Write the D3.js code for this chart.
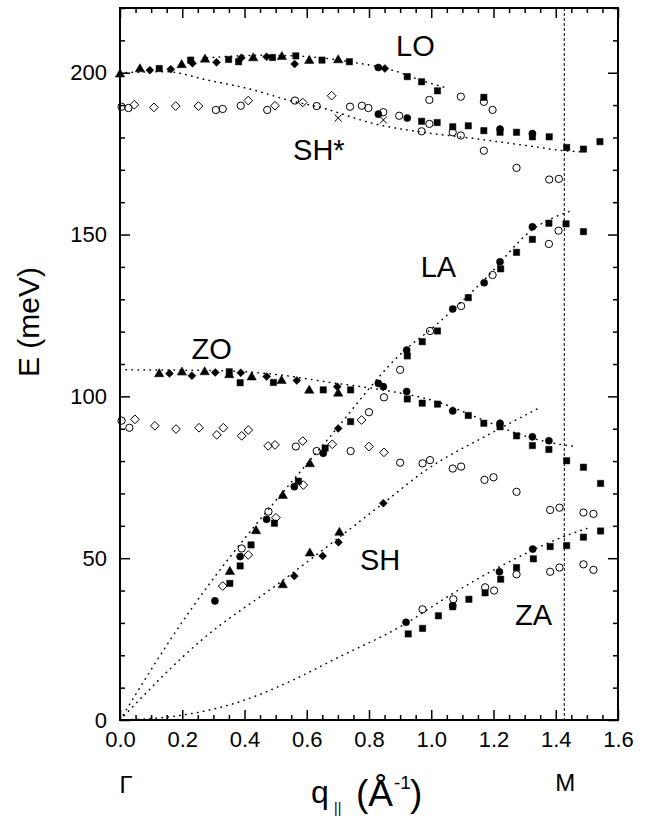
<!DOCTYPE html>
<html>
<head>
<meta charset="utf-8">
<script src="https://cdn.jsdelivr.net/npm/d3@7"></script>
<style>
  html, body { margin: 0; padding: 0; background: #fff; }
  svg { display: block; }
  text { font-family: "Liberation Sans", Arial, sans-serif; fill: #000; }
</style>
</head>
<body>
<div id="chart"></div>
<script>
// ---------------- data (q in 1/Å, E in meV) ----------------
const xTicks = [0.0, 0.2, 0.4, 0.6, 0.8, 1.0, 1.2, 1.4, 1.6];
const yTicks = [0, 50, 100, 150, 200];
const mPointQ = 1.4275;

const filledTriangles = [
  [0.0,199.5],[0.064,201.1],[0.198,202.4],[0.273,204.1],[0.428,204.5],[0.52,204.9],[0.608,203.7],[0.701,203.9],
  [0.126,106.9],[0.199,107.4],[0.272,107.5],[0.351,106.6],[0.423,105.9],[0.519,104.8],[0.608,101.8],[0.701,100.9],
  [0.353,45.8],[0.437,58.4],[0.523,69.3],[0.61,79.1],
  [0.523,41.7],[0.61,51.5],[0.705,57.9]
];
const filledDiamonds = [
  [0.096,200.8],[0.163,201.1],[0.233,202.9],[0.31,203.2],[0.39,204.6],[0.471,204.9],[0.561,202.7],[0.851,201.3],
  [0.159,107.1],[0.231,106.4],[0.306,107.4],[0.388,107.3],[0.471,106.1],[0.568,104.9],[0.698,103.0],
  [0.701,90.1],
  [0.56,44.5],[0.651,50.7],[0.702,54.9],[0.846,67]
];
const filledSquares = [
  [0.126,201.3],[0.227,203.9],[0.349,204.1],[0.381,203.4],[0.49,204.7],[0.565,205.2],[0.649,203.9],[0.737,203.4],[0.923,198.8],[0.969,197.2],[1.02,194.4],[1.169,192.4],
  [0.969,185],[1.019,184.6],[1.069,183.3],[1.119,183.6],[1.169,182.1],[1.221,181.6],[1.274,181.6],[1.325,180.2],[1.379,180.2],[1.435,176.9],[1.489,176.4],[1.542,178.7],
  [0.353,42.2],[0.386,47.6],[0.421,54.1],[0.496,60.8],[0.573,73.8],[0.659,84],[0.741,92.2],[0.923,112.5],[0.971,116.9],[1.02,120.2],[1.119,130.5],[1.223,139.4],[1.274,144.5],[1.325,148.5],[1.378,153.5],[1.433,153.3],[1.489,150.9],
  [0.351,107.6],[0.386,104.2],[0.493,104.3],[0.653,102],[0.741,102],[0.923,99.2],[0.971,97.9],[1.02,97.6],[1.119,94.1],[1.169,91.7],[1.221,90.6],[1.274,87.8],[1.325,84.8],[1.378,83.6],[1.435,80.1],[1.489,78.1],[1.544,73.1],
  [0.926,26.6],[0.972,28.3],[1.023,32.2],[1.069,35],[1.121,37.3],[1.173,39.3],[1.223,43.5],[1.274,47.1],[1.328,49.8],[1.382,53.6],[1.435,53.9],[1.489,56.5],[1.544,58.4]
];
const filledCircles = [
  [0.83,201.6],
  [0.83,187.2],[0.923,186],[1.221,182.6],[1.325,181.2],
  [0.305,36.8],[0.386,50.5],[0.471,62],[0.56,72.1],[0.653,82.4],[0.83,104],[0.846,103],[0.921,114.3],[1.069,127],[1.17,135.1],[1.221,141.6],[1.325,152.4],
  [0.921,101.5],[1.069,95.5],[1.221,91.7],[1.325,87.5],[1.378,86.3],
  [0.919,30.2],[1.069,35.3],[1.219,45.8],[1.326,52.8]
];
const openCircles = [
  [0.005,189.5],[0.027,189.1],[0.308,188.5],[0.33,188.8],[0.388,189.8],[0.473,188.5],[0.562,191.4],[0.632,189.7],[0.739,189.5],[0.777,189.8],[0.798,189.1],[0.846,187.8],[0.897,186.7],[0.969,181.9],[0.994,184.2],[1.069,181.6],[1.095,180.6],[1.169,175.9],[1.274,170.6],[1.379,167],[1.41,167.2],
  [0.994,191.6],[1.095,192.6],[1.169,191],[1.197,188.5],
  [0.391,53],[0.477,64.4],[0.8,95.1],[0.848,99.7],[0.9,108.2],[0.996,120.2],[1.096,127.9],[1.197,137.5],[1.378,147.1],[1.409,151.2],
  [0.005,92.5],[0.03,90.3],[0.565,84.5],[0.632,83.1],[0.741,83.1],[0.9,79.5],[0.972,79.3],[0.996,80.3],[1.069,77.7],[1.096,78.3],[1.171,74.2],[1.2,75],[1.274,70.5],[1.382,64.9],[1.412,65.6],[1.489,64.1],[1.521,63.7],
  [0.972,34.2],[1.071,37.3],[1.173,41],[1.202,40],[1.274,45],[1.382,45.8],[1.412,47.1],[1.489,48.1],[1.521,46.4]
];
const openDiamonds = [
  [0.046,190.1],[0.109,189.3],[0.179,189.7],[0.252,189.7],[0.412,191.4],[0.498,189.8],[0.587,190.8],[0.68,192.9],
  [0.048,92.9],[0.112,90.9],[0.18,89.9],[0.254,90.3],[0.311,88.1],[0.332,90.3],[0.391,87.8],[0.412,89.6],[0.476,84.7],[0.498,85],[0.587,86.2],[0.682,85.2],[0.8,84.5],[0.848,82.7],
  [0.33,41.4],[0.412,51],[0.501,62.5],[0.589,72.6],[0.776,92.7]
];
const crosses = [[0.701,186],[0.846,185.4]];

// dotted model curves
const curveLO = [[0.28,204.6],[0.45,205.4],[0.6,205],[0.737,203.4],[0.889,200.4],[0.969,197.6],[1.05,195.3]];
const curveSHstar = [[0,200],[0.15,200.3],[0.278,197.8],[0.428,194.7],[0.546,191.4],[0.643,189.3],[0.819,184.2],[0.996,181.3],[1.135,179.7],[1.328,177.2],[1.4275,175.9],[1.478,175.6]];
const curveZO = [[0,108.2],[0.3,108],[0.5,106.8],[0.675,104.3],[0.83,102.2],[1.017,98.4],[1.167,92.7],[1.274,88.6],[1.424,85],[1.467,84.5]];
const curveLA = [[0,0],[0.161,24.7],[0.675,87.6],[0.921,114.8],[0.996,120.5],[1.17,136],[1.325,151.5],[1.451,157.4]];
const curveSH = [[0,0],[0.262,24.7],[0.514,42.5],[0.846,67],[0.98,77],[1.2,89],[1.344,96.3]];
const curveZA = [[0,0],[0.2,1.5],[0.386,5.7],[0.557,12.4],[0.696,19.1],[0.9,28.8],[1.071,39.2],[1.221,47.4],[1.424,56.6],[1.5,59.2]];

const branchLabels = ["LO", "SH*", "LA", "ZO", "SH", "ZA"];
const branchLabelQ = [0.887, 0.556, 0.966, 0.23, 0.771, 1.269];
const branchLabelE = [205.2, 173.0, 136.9, 111.6, 46.4, 29.4];

// ---------------- layout ----------------
const W = 647, H = 818;
const L = 120, R = 618, T = 8, B = 720;

const svg = d3.select("#chart").append("svg").attr("width", W).attr("height", H);

const x = d3.scaleLinear().domain([0, 1.6]).range([L, R]);
const y = d3.scaleLinear().domain([0, 220]).range([B, T]);

const xMinor = d3.range(0, 1.6001, 0.05).map(v => +v.toFixed(2)).filter(v => !xTicks.some(t => Math.abs(t - v) < 1e-6));
const yMinor = d3.range(0, 220.1, 10).filter(v => v % 50 !== 0);

// ---------------- dotted curves ----------------
const line = d3.line().x(d => x(d[0])).y(d => y(d[1])).curve(d3.curveMonotoneX);
const curves = [curveLO, curveSHstar, curveZO, curveLA, curveSH, curveZA];
svg.append("g").selectAll("path").data(curves).join("path")
  .attr("d", line)
  .attr("fill", "none")
  .attr("stroke", "#000")
  .attr("stroke-width", 1.5)
  .attr("stroke-linecap", "round")
  .attr("stroke-dasharray", "0.5,5.5");

// M vertical line
svg.append("line")
  .attr("x1", x(mPointQ)).attr("x2", x(mPointQ))
  .attr("y1", y(220)).attr("y2", y(0))
  .attr("stroke", "#000").attr("stroke-width", 1)
  .attr("stroke-dasharray", "3,2");

// ---------------- markers ----------------
const diamondType = { draw(ctx, size) { const r = Math.sqrt(size / 2); ctx.moveTo(0, -r); ctx.lineTo(r, 0); ctx.lineTo(0, r); ctx.lineTo(-r, 0); ctx.closePath(); } };
const crossType = { draw(ctx, size) { const r = Math.sqrt(size) / 2; ctx.moveTo(-r, -r); ctx.lineTo(r, r); ctx.moveTo(r, -r); ctx.lineTo(-r, r); } };

function drawSet(data, type, size, filled) {
  svg.append("g").selectAll("path").data(data).join("path")
    .attr("transform", d => `translate(${x(d[0])},${y(d[1])})`)
    .attr("d", d3.symbol().type(type).size(size))
    .attr("fill", filled ? "#000" : "none")
    .attr("stroke", "#000")
    .attr("stroke-width", filled ? 0.5 : 1);
}
drawSet(openCircles, d3.symbolCircle, 42, false);
drawSet(openDiamonds, diamondType, 38, false);
drawSet(crosses, crossType, 50, false);
drawSet(filledSquares, d3.symbolSquare, 40, true);
drawSet(filledTriangles, d3.symbolTriangle, 38, true);
drawSet(filledDiamonds, diamondType, 32, true);
drawSet(filledCircles, d3.symbolCircle, 40, true);

// ---------------- axes ----------------
function styleAxis(g) {
  g.select(".domain").remove();
  g.selectAll(".tick line").attr("stroke", "#000").attr("stroke-width", 1.5);
}
function styleLabels(g) {
  g.selectAll(".tick text").attr("font-size", 22).attr("font-family", "Liberation Sans, Arial, sans-serif").attr("fill", "#000");
}
svg.append("g").attr("transform", `translate(0,${B})`)
  .call(d3.axisBottom(x).tickValues(xTicks).tickSize(-10).tickPadding(11).tickFormat(d3.format(".1f")))
  .call(styleAxis).call(styleLabels);
svg.append("g").attr("transform", `translate(0,${B})`)
  .call(d3.axisBottom(x).tickValues(xMinor).tickSize(-5).tickFormat(""))
  .call(styleAxis);
svg.append("g").attr("transform", `translate(0,${T})`)
  .call(d3.axisTop(x).tickValues(xTicks).tickSize(-10).tickFormat(""))
  .call(styleAxis);
svg.append("g").attr("transform", `translate(0,${T})`)
  .call(d3.axisTop(x).tickValues(xMinor).tickSize(-5).tickFormat(""))
  .call(styleAxis);
svg.append("g").attr("transform", `translate(${L},0)`)
  .call(d3.axisLeft(y).tickValues(yTicks).tickSize(-10).tickPadding(13).tickFormat(d3.format("d")))
  .call(styleAxis).call(styleLabels);
svg.append("g").attr("transform", `translate(${L},0)`)
  .call(d3.axisLeft(y).tickValues(yMinor).tickSize(-5).tickFormat(""))
  .call(styleAxis);
svg.append("g").attr("transform", `translate(${R},0)`)
  .call(d3.axisRight(y).tickValues(yTicks).tickSize(-10).tickFormat(""))
  .call(styleAxis);
svg.append("g").attr("transform", `translate(${R},0)`)
  .call(d3.axisRight(y).tickValues(yMinor).tickSize(-5).tickFormat(""))
  .call(styleAxis);

// frame
svg.append("rect")
  .attr("x", L).attr("y", T).attr("width", R - L).attr("height", B - T)
  .attr("fill", "none").attr("stroke", "#000").attr("stroke-width", 2);

// ---------------- branch labels ----------------
svg.append("g").selectAll("text").data(branchLabels).join("text")
  .attr("x", (d, i) => x(branchLabelQ[i]))
  .attr("y", (d, i) => y(branchLabelE[i]))
  .attr("font-size", 29)
  .text(d => d);

// ---------------- axis titles ----------------
svg.append("text")
  .attr("transform", "translate(39,322) rotate(-90)")
  .attr("text-anchor", "middle")
  .attr("font-size", 30)
  .text("E (meV)");

const xt = svg.append("text");
xt.append("tspan").attr("x", 311).attr("y", 803).attr("font-size", 32).text("q");
xt.append("tspan").attr("x", 334).attr("y", 813).attr("font-size", 14).text("||");
xt.append("tspan").attr("x", 356).attr("y", 806).attr("font-size", 37).text("(Å");
xt.append("tspan").attr("x", 394).attr("y", 789).attr("font-size", 19).text("-1");
xt.append("tspan").attr("x", 410).attr("y", 806).attr("font-size", 37).text(")");

svg.append("text")
  .attr("x", x(0) + 6).attr("y", 793)
  .attr("text-anchor", "middle")
  .attr("font-family", "Liberation Serif, Times New Roman, serif")
  .attr("font-size", 24)
  .text("Γ");

svg.append("text")
  .attr("x", x(mPointQ) + 1).attr("y", 791)
  .attr("text-anchor", "middle")
  .attr("font-size", 24)
  .text("M");
</script>
</body>
</html>
